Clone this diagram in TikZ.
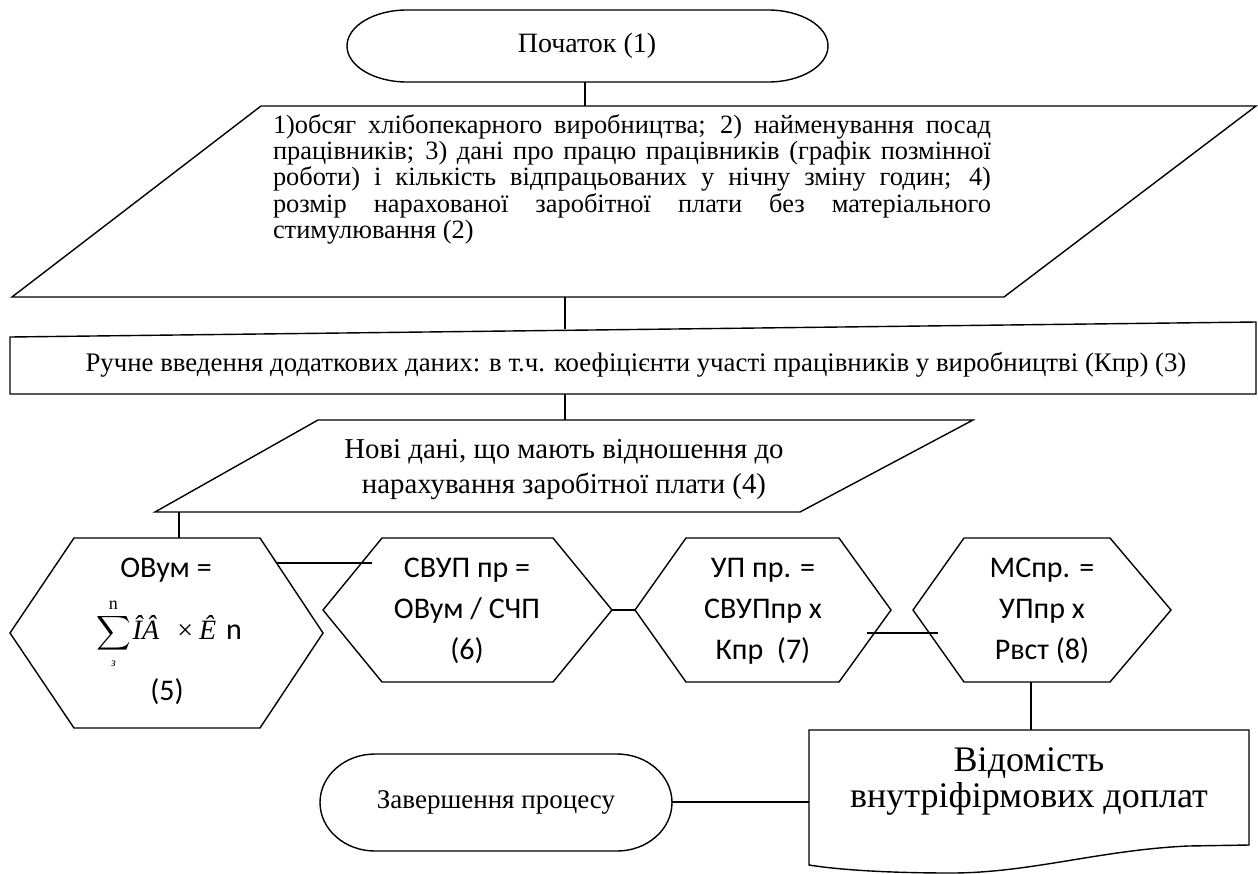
\documentclass[tikz,border=0pt]{standalone}
\usepackage{exscale}
\usepackage{fontspec}
\setmainfont{Liberation Serif}
\newfontfamily\calfont{Carlito}
\begin{document}
\begin{tikzpicture}[x=0.5pt,y=-0.5pt,line width=0.7pt,
  every node/.style={inner sep=0pt},
  shapeline/.style={draw=black,line width=0.7pt},
  conn/.style={draw=black,line width=0.7pt},
  tnr/.style={font=\fontsize{13.2}{11.65}\selectfont},
  tnrbig/.style={font=\fontsize{14}{17.5}\selectfont},
  hextext/.style={font=\calfont\fontsize{15}{20.5}\selectfont,align=center}]
\useasboundingbox (0,0) rectangle (1258,873);

% ---- start terminal
\draw[shapeline] (407,10) -- (768,10) arc[start angle=-90,end angle=90,x radius=60,y radius=36]
  -- (407,82) arc[start angle=90,end angle=270,x radius=60,y radius=36] -- cycle;
\node[tnrbig] (start) at (587,46) {Початок (1)};
\coordinate (startb) at (585,82);

% ---- input data parallelogram (2)
\draw[shapeline] (261,106) -- (1256,106) -- (1004,297) -- (12,297) -- cycle;
\coordinate (in1t) at (585,106);
\coordinate (in1b) at (565,297);
\node[tnr,text width=359pt,align=justify] (in1) at (632,179)
 {1)обсяг хлібопекарного виробництва; 2) найменування посад\linebreak
 працівників; 3) дані про працю працівників (графік позмінної\linebreak
 роботи) і кількість відпрацьованих у нічну зміну годин; 4)\linebreak
 розмір нарахованої заробітної плати без матеріального\linebreak
 стимулювання (2)\hfill\null};

% ---- manual input (3)
\draw[shapeline] (10,337) -- (1256,322) -- (1256,394) -- (10,394) -- cycle;
\coordinate (manT) at (565,329);
\coordinate (manB) at (565,394);
\node[font=\fontsize{13.4}{15}\selectfont] (man) at (636,365) {Ручне введення додаткових даних: в т.ч. коефіцієнти участі працівників у виробництві (Кпр) (3)};

% ---- new data parallelogram (4)
\draw[shapeline] (318,420) -- (973,420) -- (800,512) -- (155,512) -- cycle;
\coordinate (in2t) at (565,420);
\coordinate (in2b) at (179,512);
\node[font=\fontsize{14.4}{17.5}\selectfont,align=center] (in2) at (564,470) {Нові дані, що мають відношення до\\нарахування заробітної плати (4)};

% ---- hexagon (5)
\draw[shapeline] (74,538) -- (260,538) -- (323,633) -- (260,728) -- (74,728) -- (10,633) -- cycle;
\coordinate (h5t) at (179,538);
\coordinate (h5r) at (277,563);
\node[hextext] (h5a) at (166,570) {ОВум =};
\node (h5f) at (169,634) {\fontsize{12}{14}\selectfont$\displaystyle\sum\limits^{\mbox{\fontsize{9}{9}\selectfont n}}_{\mbox{\fontsize{6}{6}\selectfont\itshape з}}$\hspace{1pt}\fontsize{14}{16}\selectfont\textit{ÎÂ}\hspace{9pt}×\hspace{3pt}\textit{Ê}\hspace{5pt}{\calfont\fontsize{15}{16}\selectfont n}};
\node[hextext] (h5b) at (167,692) {(5)};

% ---- hexagon (6)
\draw[shapeline] (382,538) -- (553,538) -- (612,610) -- (553,682) -- (382,682) -- (323,610) -- cycle;
\coordinate (h6in) at (372,563);
\coordinate (h6r) at (612,610);
\node[hextext] (h6) at (467,611) {СВУП пр =\\ОВум / СЧП\\(6)};

% ---- hexagon (7)
\draw[shapeline] (686,538) -- (839,538) -- (891,610) -- (839,682) -- (686,682) -- (635,610) -- cycle;
\coordinate (h7l) at (635,610);
\coordinate (h7r) at (867,633);
\node[hextext] (h7) at (763,611) {УП пр. =\\СВУПпр х\\Кпр~~(7)};

% ---- hexagon (8)
\draw[shapeline] (964,538) -- (1110,538) -- (1171,610) -- (1110,682) -- (964,682) -- (913,610) -- cycle;
\coordinate (h8l) at (938,633);
\coordinate (h8b) at (1031,682);
\node[hextext] (h8) at (1042,611) {МСпр. =\\УПпр х\\Рвст (8)};

% ---- document
\draw[shapeline] (809,730) -- (1249,730) -- (1249,845) -- (1188,846)
  .. controls (1100,850) and (1030,873) .. (951,873)
  .. controls (890,873) and (840,870) .. (809,865) -- cycle;
\coordinate (docT) at (1031,730);
\coordinate (docL) at (809,802);
\node[font=\fontsize{18}{18}\selectfont,align=center] (doc) at (1029,781) {Відомість\\внутріфірмових доплат};

% ---- end terminal
\draw[shapeline] (375,754) -- (617,754) arc[start angle=-90,end angle=90,x radius=55,y radius=48.5]
  -- (375,851) arc[start angle=90,end angle=270,x radius=55,y radius=48.5] -- cycle;
\node[font=\fontsize{13.5}{16}\selectfont] (fin) at (496,802) {Завершення процесу};
\coordinate (finR) at (672,802);

% ---- connectors
\draw[conn] (startb) -- (in1t);
\draw[conn] (in1b) -- (manT);
\draw[conn] (manB) -- (in2t);
\draw[conn] (in2b) -- (h5t);
\draw[conn] (h5r) -- (h6in);
\draw[conn] (h6r) -- (h7l);
\draw[conn] (h7r) -- (h8l);
\draw[conn] (h8b) -- (docT);
\draw[conn] (finR) -- (docL);
\end{tikzpicture}
\end{document}
